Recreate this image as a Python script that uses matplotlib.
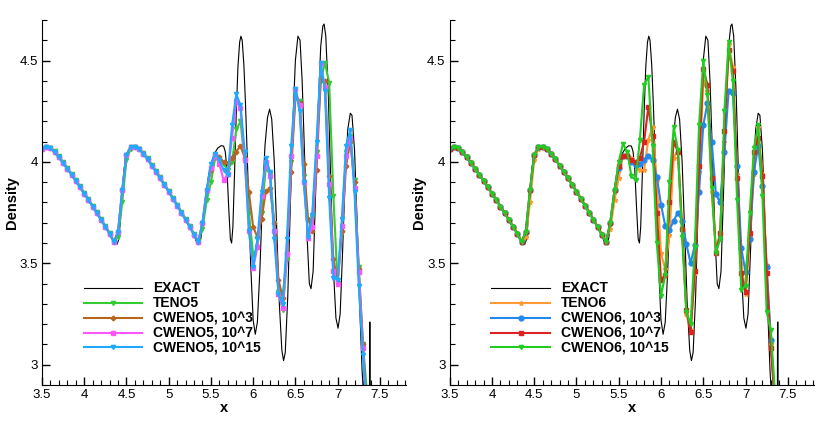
import numpy as np
import matplotlib
matplotlib.use("Agg")
import matplotlib.pyplot as plt
from matplotlib.ticker import MultipleLocator, FormatStrFormatter

plt.rcParams['font.family'] = ['Liberation Sans', 'DejaVu Sans']

# exact solution
x_exact = [3.50, 3.53, 3.56, 3.60, 3.65, 3.70, 3.75, 3.80, 3.85, 3.90, 3.95, 4.00,
           4.05, 4.10, 4.15, 4.20, 4.25, 4.30, 4.34, 4.37, 4.39, 4.41, 4.43, 4.45,
           4.47, 4.49, 4.52, 4.56, 4.60, 4.64, 4.70, 4.75, 4.80, 4.85, 4.90, 4.95,
           5.00, 5.05, 5.10, 5.15, 5.20, 5.25, 5.29, 5.32, 5.34, 5.36, 5.38, 5.41,
           5.44, 5.47, 5.50, 5.54, 5.58, 5.62, 5.65, 5.67, 5.69, 5.71, 5.73, 5.745,
           5.76, 5.78, 5.80, 5.82, 5.84, 5.855, 5.87, 5.89, 5.91, 5.94, 5.97, 6.00,
           6.025, 6.05, 6.08, 6.11, 6.14, 6.17, 6.195, 6.22, 6.25, 6.28, 6.31, 6.34,
           6.36, 6.38, 6.41, 6.44, 6.47, 6.50, 6.53, 6.555, 6.58, 6.61, 6.64, 6.665,
           6.685, 6.71, 6.74, 6.77, 6.80, 6.825, 6.84, 6.86, 6.89, 6.92, 6.95, 6.98,
           7.005, 7.03, 7.06, 7.09, 7.12, 7.15, 7.17, 7.20, 7.23, 7.26, 7.29, 7.32,
           7.376, 7.379, 7.384, 7.387]
rho_exact = [4.066, 4.076, 4.078, 4.071, 4.052, 4.026, 3.998, 3.969, 3.939, 3.908, 3.877, 3.845,
             3.813, 3.781, 3.748, 3.715, 3.681, 3.647, 3.617, 3.597, 3.595, 3.62, 3.72, 3.86,
             3.96, 4.02, 4.057, 4.075, 4.079, 4.070, 4.043, 4.014, 3.984, 3.953, 3.921, 3.888,
             3.855, 3.821, 3.787, 3.752, 3.717, 3.681, 3.650, 3.615, 3.598, 3.596, 3.62, 3.71,
             3.83, 3.93, 3.99, 4.04, 4.068, 4.08, 4.078, 4.05, 3.96, 3.78, 3.62, 3.60,
             3.68, 3.95, 4.24, 4.47, 4.59, 4.62, 4.60, 4.48, 4.28, 3.90, 3.50, 3.22,
             3.15, 3.21, 3.47, 3.82, 4.08, 4.22, 4.26, 4.21, 4.00, 3.66, 3.30, 3.07,
             3.02, 3.06, 3.34, 3.78, 4.20, 4.50, 4.62, 4.60, 4.40, 4.02, 3.62, 3.40,
             3.375, 3.46, 3.85, 4.27, 4.57, 4.67, 4.68, 4.62, 4.33, 3.88, 3.47, 3.23,
             3.18, 3.25, 3.57, 3.93, 4.16, 4.24, 4.23, 4.06, 3.72, 3.30, 2.97, 2.75,
             2.60, 3.21, 3.21, 2.60]

# numerical grid (dx = 0.05)
x_num = [3.50, 3.55, 3.60, 3.65, 3.70, 3.75, 3.80, 3.85, 3.90, 3.95,
         4.00, 4.05, 4.10, 4.15, 4.20, 4.25, 4.30, 4.35, 4.40, 4.45,
         4.50, 4.55, 4.60, 4.65, 4.70, 4.75, 4.80, 4.85, 4.90, 4.95,
         5.00, 5.05, 5.10, 5.15, 5.20, 5.25, 5.30, 5.35, 5.40, 5.45,
         5.50, 5.55, 5.60, 5.65, 5.70, 5.75, 5.80, 5.85, 5.90, 5.95,
         6.00, 6.05, 6.10, 6.15, 6.20, 6.25, 6.30, 6.35, 6.40, 6.45,
         6.50, 6.55, 6.60, 6.65, 6.70, 6.75, 6.80, 6.85, 6.90, 6.95,
         7.00, 7.05, 7.10, 7.15, 7.20, 7.25, 7.30, 7.35]

# smooth part 3.50 - 5.45
smooth_cweno = [4.065, 4.076, 4.068, 4.048, 4.022, 3.995, 3.966, 3.937, 3.906, 3.875,
                3.844, 3.812, 3.780, 3.747, 3.714, 3.680, 3.646, 3.605, 3.655, 3.86,
                4.035, 4.072, 4.076, 4.063, 4.040, 4.012, 3.982, 3.951, 3.919, 3.886,
                3.853, 3.819, 3.785, 3.750, 3.715, 3.679, 3.640, 3.605, 3.70, 3.86]
smooth_teno = [4.065, 4.076, 4.070, 4.052, 4.027, 4.000, 3.971, 3.942, 3.911, 3.880,
               3.849, 3.817, 3.785, 3.752, 3.719, 3.685, 3.651, 3.612, 3.63, 3.80,
               4.01, 4.066, 4.076, 4.066, 4.045, 4.017, 3.987, 3.956, 3.924, 3.891,
               3.858, 3.824, 3.790, 3.755, 3.720, 3.684, 3.646, 3.610, 3.67, 3.81]

# oscillating part 5.50 - 7.35
teno5_osc = [3.90, 4.02, 4.02, 3.99, 3.96, 4.00, 4.16, 4.20, 4.00, 3.75,
             3.54, 3.58, 3.75, 3.97, 3.94, 3.70, 3.36, 3.27, 3.52, 4.00,
             4.33, 4.30, 3.93, 3.63, 3.73, 4.05, 4.40, 4.49, 4.39, 3.83,
             3.40, 3.65, 4.05, 4.13, 3.91, 3.48, 3.10, 2.85]
cweno5_e3_osc = [3.96, 4.04, 4.025, 4.00, 3.995, 4.02, 4.05, 4.08, 4.02, 3.85,
                 3.68, 3.63, 3.72, 3.855, 3.87, 3.70, 3.42, 3.33, 3.55, 3.95,
                 4.32, 4.29, 3.99, 3.72, 3.66, 3.96, 4.41, 4.40, 3.93, 3.52,
                 3.41, 3.66, 3.98, 4.10, 3.90, 3.47, 3.10, 2.75]
cweno5_e7_osc = [3.97, 4.03, 3.99, 3.91, 3.94, 4.12, 4.30, 4.265, 4.01, 3.66,
                 3.475, 3.58, 3.83, 4.00, 3.93, 3.66, 3.35, 3.28, 3.545, 4.03,
                 4.36, 4.28, 3.90, 3.625, 3.68, 4.03, 4.49, 4.37, 3.89, 3.46,
                 3.40, 3.685, 4.03, 4.12, 3.87, 3.455, 3.08, 2.70]
cweno5_e15_osc = [3.99, 4.04, 4.01, 3.96, 3.935, 4.18, 4.335, 4.28, 4.05, 3.66,
                  3.48, 3.62, 3.85, 4.02, 3.95, 3.62, 3.35, 3.30, 3.62, 4.08,
                  4.36, 4.25, 3.90, 3.63, 3.74, 4.10, 4.49, 4.35, 3.82, 3.43,
                  3.42, 3.72, 4.08, 4.155, 3.85, 3.39, 3.05, 2.70]

teno6_osc = [3.92, 4.03, 4.04, 4.02, 3.99, 3.96, 3.96, 4.11, 4.17, 3.91,
             3.55, 3.47, 3.64, 4.02, 4.06, 3.67, 3.25, 3.17, 3.45, 3.95,
             4.40, 4.35, 3.85, 3.56, 3.65, 4.10, 4.58, 4.47, 3.94, 3.50,
             3.35, 3.63, 3.94, 4.17, 3.94, 3.49, 3.10, 2.80]
cweno6_e3_osc = [3.97, 4.03, 4.03, 4.00, 3.985, 3.99, 4.01, 4.03, 4.01, 3.926,
                 3.79, 3.685, 3.665, 3.71, 3.75, 3.71, 3.595, 3.50, 3.59, 3.85,
                 4.18, 4.29, 4.10, 3.84, 3.80, 4.05, 4.35, 4.34, 3.98, 3.576,
                 3.455, 3.62, 3.95, 4.08, 3.88, 3.48, 3.12, 2.80]
cweno6_e7_osc = [3.98, 4.03, 4.03, 4.01, 4.00, 4.02, 4.10, 4.27, 4.13, 3.75,
                 3.42, 3.44, 3.80, 4.10, 4.05, 3.67, 3.27, 3.16, 3.46, 3.98,
                 4.46, 4.38, 3.92, 3.55, 3.65, 4.15, 4.55, 4.45, 3.92, 3.45,
                 3.36, 3.65, 4.05, 4.12, 3.93, 3.45, 3.08, 2.80]
cweno6_e15_osc = [4.00, 4.09, 4.05, 3.93, 3.91, 4.11, 4.38, 4.42, 4.08, 3.60,
                  3.34, 3.44, 3.90, 4.17, 4.06, 3.63, 3.26, 3.20, 3.58, 4.18,
                  4.50, 4.33, 3.87, 3.55, 3.62, 4.25, 4.59, 4.40, 3.81, 3.37,
                  3.39, 3.75, 4.07, 4.18, 3.83, 3.26, 3.17, 2.85]

left_series = [
    ("TENO5", smooth_teno + teno5_osc, "#33cc33", "v", 3),
    ("CWENO5, 10^3", smooth_cweno + cweno5_e3_osc, "#b8651e", "P", 3),
    ("CWENO5, 10^7", smooth_cweno + cweno5_e7_osc, "#ff55ff", "s", 3),
    ("CWENO5, 10^15", smooth_cweno + cweno5_e15_osc, "#1eaaff", "v", 3),
]
right_series = [
    ("TENO6", smooth_teno + teno6_osc, "#ff9933", "*", 3.5),
    ("CWENO6, 10^3", smooth_cweno + cweno6_e3_osc, "#2288ee", "o", 3.5),
    ("CWENO6, 10^7", smooth_cweno + cweno6_e7_osc, "#dd2222", "s", 3),
    ("CWENO6, 10^15", smooth_cweno + cweno6_e15_osc, "#22cc22", "v", 3),
]

fig = plt.figure(figsize=(8.3, 4.22), dpi=100)
ax1 = fig.add_axes([0.0506, 0.0877, 0.4386, 0.865])
ax2 = fig.add_axes([0.5418, 0.0877, 0.4389, 0.865])

for ax, series in [(ax1, left_series), (ax2, right_series)]:
    ax.plot(x_exact, rho_exact, color='black', lw=0.8, label='EXACT')
    for name, vals, col, mk, ms in series:
        ax.plot(x_num, vals, color=col, lw=1.5, marker=mk, ms=ms, mec=col,
                mfc=col, label=name)
    ax.set_xlim(3.5, 7.81)
    ax.set_ylim(2.9, 4.7)
    ax.xaxis.set_major_locator(MultipleLocator(0.5))
    ax.xaxis.set_minor_locator(MultipleLocator(0.1))
    ax.yaxis.set_major_locator(MultipleLocator(0.5))
    ax.yaxis.set_minor_locator(MultipleLocator(0.1))
    ax.xaxis.set_major_formatter(FormatStrFormatter('%g'))
    ax.yaxis.set_major_formatter(FormatStrFormatter('%g'))
    ax.tick_params(which='major', direction='in', length=6, width=1,
                   labelsize=9.5, pad=3)
    ax.tick_params(which='minor', direction='in', length=3.5, width=0.8)
    ax.spines['top'].set_visible(False)
    ax.spines['right'].set_visible(False)
    ax.set_xlabel('x', fontsize=10.5, fontweight='bold', labelpad=0)
    ax.set_ylabel('Density', fontsize=10.5, fontweight='bold', labelpad=0.5)
    ax.legend(loc='lower left', bbox_to_anchor=(0.08, 0.047), frameon=False,
              handlelength=4.2, handletextpad=0.8, labelspacing=0.07,
              numpoints=1, prop={'weight': 'bold', 'size': 10})

fig.savefig('out.png', dpi=100)
